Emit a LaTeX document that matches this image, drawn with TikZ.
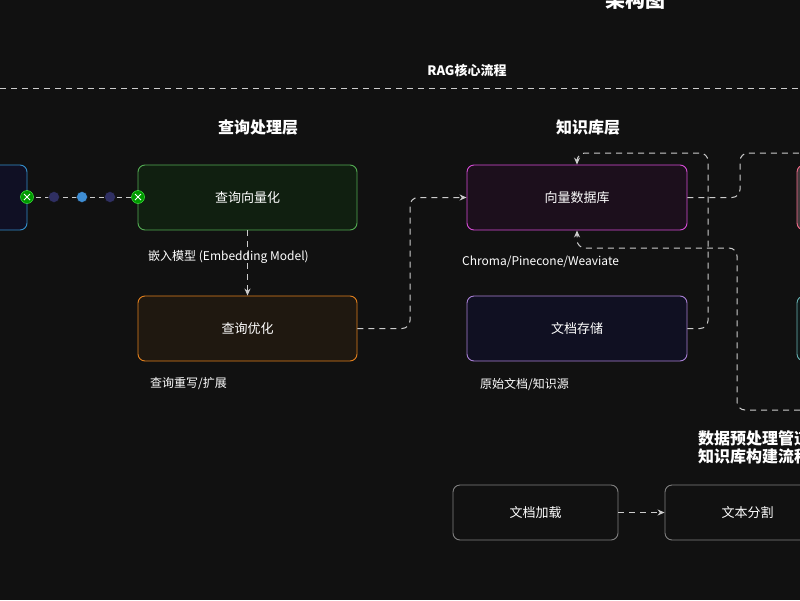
\documentclass[tikz,border=0pt]{standalone}
\usepackage{fontspec}
\setmainfont{Noto Sans CJK SC}
\usetikzlibrary{arrows.meta,calc}
\definecolor{bg}{HTML}{111111}
\definecolor{dl}{HTML}{CCCCCC}
\begin{document}
\begin{tikzpicture}[x=1pt,y=-1pt,
  box/.style={draw,rounded corners=7pt,line width=0.9pt,text=white,font=\fontsize{13}{15}\selectfont,inner sep=0},
  lbl/.style={text=white,font=\fontsize{12}{14}\selectfont,anchor=west,inner sep=0},
  hdr/.style={text=white,font=\bfseries\fontsize{16}{18}\selectfont,inner sep=0},
  dsh/.style={draw=dl,line width=1pt,dash pattern=on 6pt off 5pt,rounded corners=8pt},
  arr/.style={dsh,-{Stealth[length=7pt,width=6pt]}}]
\fill[bg] (0,0) rectangle (800,600);
\useasboundingbox (0,0) rectangle (800,600);
\node[hdr,font=\bfseries\fontsize{20}{22}\selectfont] (title) at (635,0) {架构图};
\coordinate (l0) at (0,88); \coordinate (l1) at (800,88);
\draw[draw=dl,line width=1pt,dash pattern=on 6pt off 5pt] (l0) -- (l1);
\node[hdr,font=\bfseries\fontsize{13}{15}\selectfont] (rag) at (467,70) {RAG核心流程};
\node[hdr] (h1) at (258,127) {查询处理层};
\node[hdr] (h2) at (588,127) {知识库层};
% boxes
\node[box,draw=blue!40!cyan!60!gray,fill=blue!8!bg,minimum width=50,minimum height=65] (left) at (2,197.5) {};
\node[box,draw=green!35!gray,fill=green!6!bg,minimum width=219,minimum height=65] (vec) at (247.5,197.5) {查询向量化};
\node[box,draw=orange!55!brown,fill=orange!6!bg,minimum width=219,minimum height=65] (opt) at (247.5,328.5) {查询优化};
\node[box,draw=violet!45!magenta!70!white,fill=violet!10!bg,minimum width=220,minimum height=65] (vdb) at (577,197.5) {向量数据库};
\node[box,draw=blue!35!violet!50!white,fill=blue!7!bg,minimum width=220,minimum height=65] (doc) at (577,328.5) {文档存储};
\node[box,draw=magenta!50!red!60!white,fill=magenta!8!bg,minimum width=60,minimum height=65] (pink) at (827,197.5) {};
\node[box,draw=teal!60!white,fill=teal!8!bg,minimum width=60,minimum height=65] (teal) at (827,328.5) {};
\node[box,draw=gray,fill=bg,minimum width=165,minimum height=55] (load) at (535.5,512.5) {文档加载};
\node[box,draw=gray,fill=bg,minimum width=165,minimum height=55] (split) at (747.5,512.5) {文本分割};
% labels
\node[lbl] (t1) at (148,257) {嵌入模型 (Embedding Model)};
\node[lbl] (t2) at (150,384) {查询重写/扩展};
\node[lbl] (t3) at (462,262) {Chroma/Pinecone/Weaviate};
\node[lbl] (t4) at (480,384) {原始文档/知识源};
\node[hdr,anchor=west,font=\bfseries\fontsize{16}{18}\selectfont] (t5) at (698,438) {数据预处理管道};
\node[hdr,anchor=west,font=\bfseries\fontsize{16}{18}\selectfont] (t6) at (698,456) {知识库构建流程};
% left connector
\draw[draw=dl,line width=1pt,dash pattern=on 5pt off 4pt] (left.east) -- (vec.west);
\foreach \n/\x/\c in {d1/54/gray!60!blue!50!bg, d2/82/cyan!60!blue!80!white, d3/110/gray!60!blue!50!bg}
  \node[circle,fill=\c,draw=bg,inner sep=0,minimum size=11] (\n) at (\x,197) {};
\foreach \n/\x in {g1/27,g2/138}{
  \node[circle,fill=green!60!black,draw=green!70!white,inner sep=0,minimum size=13] (\n) at (\x,197) {};
  \draw[white,line width=0.9pt] ($(\n)+(-3,-3)$) -- ($(\n)+(3,3)$) ($(\n)+(-3,3)$) -- ($(\n)+(3,-3)$);}
% connectors
\draw[arr] (vec.south) -- (opt.north);
\coordinate (a1) at (410,328.5); \coordinate (a2) at (410,197.5);
\draw[arr] (opt.east) -- (a1) -- (a2) -- (vdb.west);
\coordinate (b1) at (708,328.5); \coordinate (b2) at (708,153); \coordinate (b3) at (577,153);
\draw[arr] (doc.east) -- (b1) -- (b2) -- (b3) -- (vdb.north);
\coordinate (c1) at (740,197.5); \coordinate (c2) at (740,153); \coordinate (c3) at (800,153);
\draw[dsh] (vdb.east) -- (c1) -- (c2) -- (c3);
\coordinate (e0) at (800,410); \coordinate (e1) at (737,410); \coordinate (e2) at (737,248); \coordinate (e3) at (577,248);
\draw[arr] (e0) -- (e1) -- (e2) -- (e3) -- (vdb.south);
\draw[arr] (load.east) -- (split.west);
\end{tikzpicture}
\end{document}
